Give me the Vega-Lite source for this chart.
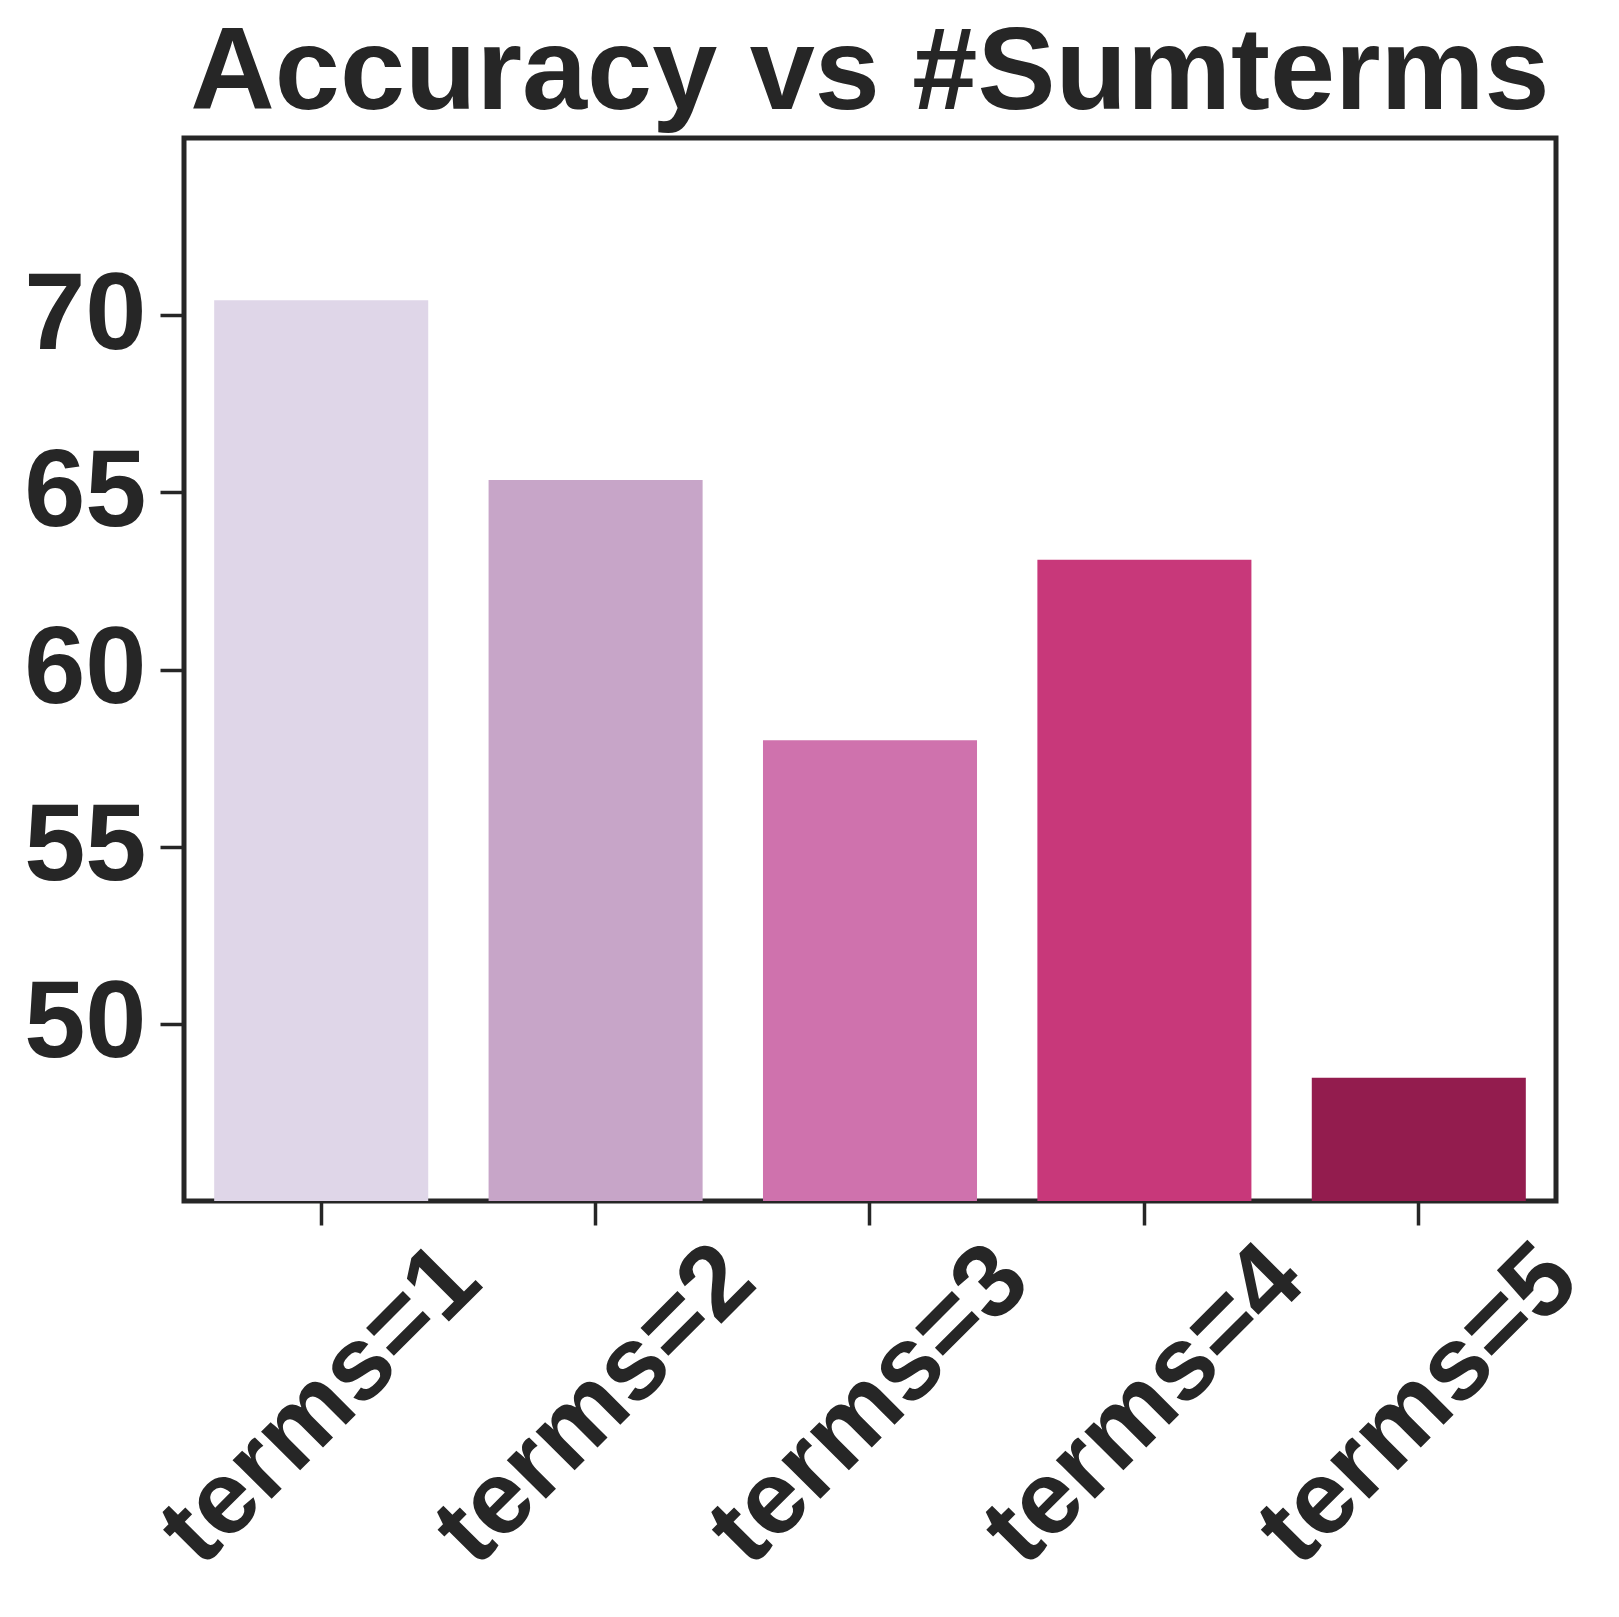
{
  "$schema": "https://vega.github.io/schema/vega-lite/v6.json",
  "autosize": "none",
  "padding": {"left": 184, "top": 138, "right": 63, "bottom": 416},
  "width": 1372,
  "height": 1063,
  "title": {"text": "Accuracy vs #Sumterms", "font": "Liberation Sans", "fontWeight": "bold", "fontSize": 117, "color": "#262626", "anchor": "middle", "offset": 4},
  "data": {"values": [
    {"label": "terms=1", "acc": 70.42},
    {"label": "terms=2", "acc": 65.35},
    {"label": "terms=3", "acc": 58.0},
    {"label": "terms=4", "acc": 63.1},
    {"label": "terms=5", "acc": 48.48}
  ]},
  "mark": {"type": "bar", "clip": true},
  "encoding": {
    "x": {"field": "label", "type": "nominal", "sort": null, "title": null,
      "scale": {"paddingInner": 0.22, "paddingOuter": 0.11},
      "axis": {"labelAngle": -45, "labelAlign": "center", "labelBaseline": "middle", "labelFontSize": 104, "labelPadding": 180, "labelLimit": 0}},
    "y": {"field": "acc", "type": "quantitative", "title": null,
      "scale": {"domain": [45, 75], "nice": false, "zero": false},
      "axis": {"values": [50, 55, 60, 65, 70], "labelFontSize": 110, "labelPadding": 14}},
    "color": {"field": "label", "type": "nominal", "legend": null,
      "scale": {"range": ["#dfd6e8", "#c7a5c8", "#cf72ad", "#c8387a", "#931c4e"]}}
  },
  "config": {
    "view": {"stroke": "#262626", "strokeWidth": 5},
    "axis": {"grid": false, "domain": false, "tickColor": "#262626", "tickWidth": 3.5, "tickSize": 24,
      "labelFont": "Liberation Sans", "labelFontWeight": "bold", "labelColor": "#262626"}
  }
}
